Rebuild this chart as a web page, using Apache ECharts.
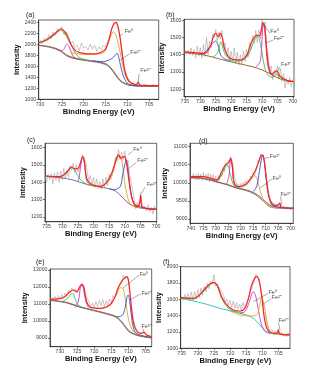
<!DOCTYPE html>
<html><head><meta charset="utf-8">
<script src="https://cdn.jsdelivr.net/npm/echarts@6.0.0/dist/echarts.min.js"></script>
<style>html,body{margin:0;padding:0;background:#fff}#chart{width:328px;height:369px}</style>
</head><body><div id="chart"></div><script>
// Fe 2p XPS spectra, six samples (a)-(f): raw counts, fitted components, Shirley background, envelope.

// ---------- (a) ----------
const aRawStart = 703, aRawStep = 0.5;
const aRaw = [1262,1238,1270,1245,1258,1232,1275,1250,1240,1330,1268,1295,1288,1345,1402,1530,1700,2080,2270,2420,2360,2330,2120,2060,1950,1990,1905,1960,1880,1990,1920,2010,1900,1970,1935,2030,1890,1990,1950,2060,2010,2150,2240,2180,2330,2250,2290,2170,2230,2110,2180,2060,2120,2010,2090];
const aBg = [[730.3,1990],[727.7,1960],[725.4,1900],[723.9,1810],[721.8,1750],[719.3,1718],[717,1690],[715.1,1657],[714,1600],[712.8,1475],[711.7,1355],[710.5,1292],[709,1256],[707.1,1245],[702.8,1243]];
const aBg2 = [[730.3,1985],[727.7,1950],[725.4,1885],[723.9,1795],[721.8,1738],[719.3,1705],[717,1678],[715.1,1640],[714,1580],[712.8,1455],[711.7,1340],[710.5,1280],[709,1250],[707.1,1240],[702.8,1240]];
const aGreen = [[730.3,2030],[729,2060],[728,2100],[727,2160],[726,2225],[725.3,2262],[724.5,2215],[723.5,2090],[722.5,1930],[721.5,1800],[720.5,1745],[719.3,1720]];
const aMagenta = [[726,1905],[725,1885],[724.4,1930],[723.9,2010],[723.4,1975],[722.8,1850],[722.2,1770],[721.5,1748]];
const aOrange = [[723,1850],[721,1830],[719,1820],[717,1825],[716,1840],[715.1,1875],[714.4,2020],[713.7,2170],[713.2,2236],[712.6,2175],[712.1,2020],[711.5,1810],[710.9,1570],[710.2,1385],[709.2,1292],[707.9,1256],[702.8,1244]];
const aBlue = [[718,1705],[715.5,1690],[714,1725],[713.1,1775],[712.6,1825],[712.3,1840],[711.9,1750],[711.3,1535],[710.5,1355],[709.4,1265],[707.5,1250],[702.8,1245]];
const aEnvelope = [[730.3,2035],[729,2070],[728,2115],[727,2175],[726,2245],[725.2,2290],[724.4,2240],[723.8,2170],[723,2020],[722,1900],[721,1855],[720,1840],[719,1830],[718,1830],[717,1835],[716,1860],[715,1920],[714.3,2060],[713.7,2250],[713.1,2380],[712.7,2405],[712.2,2350],[711.7,2150],[711.2,1850],[710.7,1580],[710.2,1420],[709.5,1320],[708.5,1280],[707.9,1268],[707.5,1305],[707.1,1262],[706,1255],[702.8,1250]];
const aNotes = [
  {text:'Fe\u2070', at:[710.6,2236], from:[711.0,2200], to:[711.9,2150]},
  {text:'Fe\u00b2\u207a', at:[709.3,1852], from:[709.5,1830], to:[711.6,1720]},
  {text:'Fe\u00b3\u207a', at:[707.0,1523], from:[707.3,1470], to:[707.5,1300]}
];

// ---------- (b) ----------
const bRawStart = 700, bRawStep = 0.5;
const bRaw = [1258,1215,1270,1228,1262,1205,1290,1245,1320,1260,1335,1280,1310,1255,1335,1290,1400,1440,1590,1560,1600,1490,1545,1470,1540,1465,1510,1430,1470,1385,1430,1360,1420,1345,1400,1340,1415,1350,1440,1360,1420,1370,1440,1395,1470,1440,1540,1490,1530,1480,1545,1500,1520,1440,1480,1400,1500,1390,1460,1380,1440,1390,1450,1380,1430,1395,1440,1400,1425,1405,1420];
const bBg = [[735.3,1412],[728.7,1398],[723.3,1373],[717.9,1350],[713.2,1331],[709.9,1311],[706.6,1283],[704.5,1263],[701.2,1248],[699.6,1244]];
const bBlue = [[729.5,1400],[727.9,1425],[726.3,1460],[725,1479],[724.1,1446],[723.4,1398],[722,1375],[720,1365]];
const bGreen = [[726,1388],[724.8,1400],[724.1,1427],[723.3,1475],[722.5,1427],[721.4,1388],[718.2,1362],[714.9,1388],[713.3,1446],[712.2,1494],[711.4,1504],[710.5,1465],[709.5,1360],[708.4,1292],[706.7,1269],[705.3,1288],[704.2,1263],[701.8,1248],[699.6,1244]];
const bMagenta = [[712,1330],[711.6,1335],[710.5,1365],[710,1485],[709.5,1585],[708.9,1504],[708.2,1350],[707.3,1290],[706,1275]];
const bEnvelope = [[735.3,1418],[728.7,1408],[726.8,1446],[725.8,1504],[725,1523],[724.1,1504],[723.6,1523],[722.9,1500],[722,1427],[720.3,1379],[717,1369],[714.9,1398],[713.6,1465],[712.5,1500],[711.6,1513],[710.8,1508],[710.2,1542],[709.7,1585],[709.1,1562],[708.6,1456],[707.8,1331],[706.7,1288],[705.3,1307],[704.2,1277],[701.8,1250],[699.6,1245]];
const bNotes = [
  {text:'Fe\u2070', at:[707.3,1537], from:[707.5,1525], to:[709.1,1571]},
  {text:'Fe\u00b2\u207a', at:[706.2,1496], from:[706.4,1485], to:[708.6,1469]},
  {text:'Fe\u00b3\u207a', at:[703.8,1346], from:[704.2,1330], to:[704.9,1302]}
];

// ---------- (c) ----------
const cRawStart = 700, cRawStep = 0.5;
const cRaw = [1240,1262,1218,1255,1230,1270,1235,1262,1245,1275,1340,1255,1285,1248,1300,1290,1410,1440,1530,1510,1580,1525,1575,1530,1590,1520,1545,1470,1480,1415,1445,1380,1430,1370,1420,1360,1405,1365,1420,1370,1430,1380,1440,1410,1460,1520,1530,1560,1500,1510,1460,1500,1455,1510,1470,1495,1430,1470,1420,1480,1415,1465,1400,1460,1410,1455,1390,1450,1415,1445,1400,1440];
const cBg = [[735.5,1433],[730.7,1427],[726.5,1413],[722.2,1388],[717.9,1373],[713.7,1356],[711.5,1327],[709.4,1288],[707.3,1263],[704,1250],[699.8,1244]];
const cGreen = [[730.7,1427],[728.6,1452],[727.3,1481],[726.7,1485],[725.6,1458],[724.3,1419],[722.2,1390],[720,1380]];
const cMagenta = [[725,1405],[724.6,1425],[724,1510],[723.5,1542],[722.9,1510],[722.2,1410],[721.1,1385]];
const cOrange = [[720,1378],[717.9,1375],[715.8,1394],[714.2,1442],[712.8,1519],[711.7,1554],[711,1530],[710.2,1423],[709.4,1336],[708.3,1279],[706.7,1258],[703,1248],[699.8,1244]];
const cBlue = [[715,1365],[713.7,1357],[711.5,1375],[710.7,1442],[709.9,1510],[709.6,1529],[708.9,1465],[708.1,1346],[707,1279],[705.1,1260],[703,1248],[699.8,1244]];
const cEnvelope = [[735.5,1438],[730.7,1433],[728.6,1458],[727.1,1488],[725.9,1477],[724.9,1481],[724,1523],[723.5,1548],[722.9,1519],[722.2,1423],[720.6,1388],[717.9,1377],[715.8,1400],[714.2,1452],[712.8,1529],[712,1558],[711.3,1539],[710.4,1548],[709.8,1542],[709.2,1481],[708.3,1365],[707.3,1284],[706,1260],[705.3,1275],[704.9,1327],[704.6,1262],[703,1250],[699.8,1245]];
const cNotes = [
  {text:'Fe\u2070', at:[707.3,1588], from:[707.6,1578], to:[708.9,1560]},
  {text:'Fe\u00b2\u207a', at:[706.0,1527], from:[706.3,1515], to:[709.5,1470]},
  {text:'Fe\u00b3\u207a', at:[703.0,1386], from:[703.5,1372], to:[704.7,1335]}
];

// ---------- (d) ----------
const dRawStart = 699, dRawStep = 0.5;
const dRaw = [9270,9330,9250,9320,9265,9340,9280,9350,9300,9360,9420,9330,9390,9340,9400,9350,9430,9440,9520,9600,9850,9980,10400,10550,10760,10700,10800,10560,10620,10380,10400,10220,10280,10100,10180,9990,10080,9920,10040,9890,10010,9860,9980,9850,9960,9880,10080,10150,10480,10500,10720,10560,10620,10450,10520,10300,10400,10180,10260,10060,10200,10000,10180,10010,10220,10050,10240,10030,10260,10060,10230,10080,10280,10060,10240,10090,10260,10070,10220,10100,10250,10110,10200];
const dBg = [[740.3,10143],[734.9,10124],[729.6,10032],[725.6,9958],[721.6,9866],[717.6,9802],[714.3,9710],[712.3,9617],[710.3,9498],[708.3,9387],[706.3,9332],[698.9,9295]];
const dBg2 = [[740.3,10138],[734.9,10115],[729.6,10020],[725.6,9945],[721.6,9850],[717.6,9780],[714.3,9680],[712.3,9575],[710.3,9450],[708.3,9345],[706.3,9305],[698.9,9285]];
const dGreen = [[729.6,10032],[727.6,10217],[726,10475],[725.6,10511],[724.7,10400],[723.6,10078],[722.3,9900],[720,9860]];
const dMagenta = [[725.6,9960],[724.7,10189],[724,10631],[723.3,10400],[722.7,9985],[721.5,9870]];
const dOrange = [[720.3,9894],[717.6,9986],[715.6,10124],[714.3,10198],[713.3,10078],[712.3,9802],[711,9525],[709.6,9387],[707.6,9323],[698.9,9295]];
const dBlue = [[714.9,9760],[713.6,9894],[712.5,10309],[711.6,10677],[711.2,10751],[710.5,10585],[709.6,10032],[708.5,9571],[706.9,9359],[698.9,9295]];
const dEnvelope = [[740.3,10170],[734.9,10170],[729.6,10078],[727.6,10309],[726,10511],[725.2,10539],[724.7,10560],[724,10677],[723.3,10447],[722.7,10032],[721,9894],[718.3,9940],[716.3,10078],[714.3,10309],[713,10539],[712,10723],[711.2,10769],[710.5,10585],[709.6,10032],[708.5,9571],[706.9,9387],[705.5,9370],[704.3,9440],[703.8,9330],[698.9,9295]];
const dNotes = [
  {text:'Fe\u00b2\u207a', at:[708.3,10714], from:[708.5,10700], to:[710.5,10677]},
  {text:'Fe\u2070', at:[707.2,10124], from:[707.4,10110], to:[712.3,9848]},
  {text:'Fe\u00b3\u207a', at:[704.0,9664], from:[704.0,9620], to:[703.6,9400]}
];

// ---------- (e) ----------
const eRawStart = 703.5, eRawStep = 0.5;
const eRaw = [9050,9160,9120,9230,9420,9250,9330,9290,9480,9650,10050,10700,11450,12350,12650,12450,12700,12250,12350,11900,11800,11350,11500,11050,11300,10900,11200,10850,11250,10900,11200,10850,11150,10800,11050,10850,11100,11150,11550,12000,12200,12000,11950,11650,11900,11750,11950,11650,11800,11450,11650,11350,11550,11300,11500,11250,11450,11280,11400,11250];
const eBg = [[732.9,11236],[728.1,11099],[724.2,10844],[720.3,10648],[716.4,10452],[713.5,10256],[711.5,9864],[710.1,9472],[708.6,9276],[706.7,9139],[703.2,9021]];
const eBg2 = [[732.9,11215],[728.1,11070],[724.2,10815],[720.3,10615],[716.4,10410],[713.5,10200],[711.5,9800],[710.1,9420],[708.6,9240],[706.7,9110],[703.2,9000]];
const eGreen = [[729,11177],[727.6,11373],[726.8,11589],[726.3,11628],[725.6,11334],[724.9,10981],[723.7,10824]];
const eMagenta = [[725.6,10785],[724.6,11177],[724,12020],[723.7,12118],[723.2,11922],[722.4,11138],[721.7,10785]];
const eOrange = [[718.3,10707],[715.4,10962],[713.5,11530],[712.3,11961],[711.5,11883],[710.7,11000],[709.8,9962],[708.6,9413],[706.7,9178],[703.2,9030]];
const eBlue = [[713.5,10256],[712,10295],[711,10746],[710.5,11334],[710.1,11530],[709.6,11138],[708.9,9962],[708.1,9374],[706.7,9178],[703.2,9030]];
const eEnvelope = [[732.9,11275],[729,11373],[727.1,11726],[726.1,11824],[725.1,11726],[724.2,12020],[723.6,12157],[723,11961],[722.2,11138],[720.8,10785],[718.3,10746],[715.4,10942],[713.9,11432],[713,11961],[712,12314],[711,12549],[710.5,12608],[710,12412],[709.4,11334],[708.6,9962],[707.6,9413],[706.2,9276],[705.5,9335],[704.7,9178],[703.2,9080]];
const eNotes = [
  {text:'Fe\u2070', at:[706.7,12745], from:[706.9,12700], to:[711.7,11922]},
  {text:'Fe\u00b2\u207a', at:[706.2,11628], from:[706.4,11600], to:[709.6,11236]},
  {text:'Fe\u00b3\u207a', at:[706.2,9650], from:[705.8,9550], to:[705.5,9380]}
];

// ---------- (f) ----------
const fRawStart = 701.5, fRawStep = 0.5;
const fRaw = [1150,1190,1140,1185,1155,1195,1160,1240,1170,1215,1175,1230,1200,1250,1290,1380,1440,1640,1700,1850,1840,1910,1820,1800,1710,1690,1580,1590,1500,1560,1470,1540,1480,1560,1490,1580,1500,1590,1530,1600,1570,1660,1640,1720,1700,1790,1760,1900,1780,1820,1730,1800,1690,1760,1650,1740,1620,1720,1600,1700,1590,1690,1580,1670,1600,1660,1590,1640];
const fBg = [[735.3,1612],[731.4,1580],[727.2,1539],[723.1,1490],[719,1449],[714.8,1408],[712.8,1367],[710.7,1286],[709.1,1204],[707.6,1184],[705.4,1173],[705,1200],[704.6,1172],[701.4,1163]];
const fGreen = [[735.3,1612],[731.4,1604],[729.3,1653],[727.2,1743],[725.7,1796],[725,1804],[723.9,1755],[722.6,1612],[721,1510],[719,1457],[716,1440]];
const fOrange = [[720,1455],[716.9,1408],[713.8,1396],[711.7,1408],[710.9,1510],[710.2,1612],[709.7,1580],[708.8,1388],[708.1,1245],[707.1,1184],[701.4,1163]];
const fMagenta = [[717,1430],[715.4,1449],[714,1571],[713.3,1661],[712.8,1694],[712,1633],[711.2,1469],[710.2,1286],[709.1,1212],[707.6,1185]];
const fEnvelope = [[735.3,1620],[731.4,1612],[729.3,1661],[727.2,1755],[725.2,1808],[723.9,1767],[722.6,1633],[721,1531],[719,1469],[716.9,1457],[715.4,1490],[714.3,1612],[713.3,1776],[712.2,1869],[711.7,1878],[710.9,1816],[710.2,1653],[709.5,1408],[708.6,1245],[707.6,1196],[706,1184],[705.3,1190],[705,1224],[704.7,1180],[701.4,1165]];
const fNotes = [
  {text:'Fe\u2070', at:[708.1,1686], from:[708.3,1670], to:[712.8,1571]},
  {text:'Fe\u00b2\u207a', at:[707.1,1624], from:[707.3,1605], to:[710.2,1530]},
  {text:'Fe\u00b3\u207a', at:[705.0,1343], from:[705.0,1320], to:[704.5,1224]}
];

// ---------- styling ----------
const FONT = '"Liberation Sans", Arial, sans-serif';
const C = {
  raw:'#a3a3a3', red:'#ff2020', green:'#3cc43c', magenta:'#c640c6', blue:'#2f4fd8',
  orange:'#e0a428', brown:'#8b5a2b', purple:'#6f5a8c', teal:'#20c2b2'
};

const panels = [
  {tag:'(a)', tagPos:[21,7], grid:{left:38.7, top:20, width:120, height:79.3},
   x:[702.8,730.3], xt:[705,710,715,720,725,730], y:[1000,2450], yt:[1000,1200,1400,1600,1800,2000,2200,2400],
   yGap:15, xGap:6, rawStart:aRawStart, rawStep:aRawStep, raw:aRaw, notes:aNotes,
   curves:[[aBg2,C.purple],[aBg,C.brown],[aGreen,C.green],[aMagenta,C.magenta],[aOrange,C.orange],[aBlue,C.blue],[aEnvelope,C.red]]},
  {tag:'(b)', tagPos:[161,7], grid:{left:184, top:19.3, width:110, height:77.4},
   x:[699.6,735.3], xt:[700,705,710,715,720,725,730,735], y:[1157,1605], yt:[1200,1300,1400,1500,1600],
   yGap:14, xGap:8, rawStart:bRawStart, rawStep:bRawStep, raw:bRaw, notes:bNotes,
   curves:[[bBg,C.brown],[bBlue,C.blue],[bGreen,C.green],[bMagenta,C.magenta],[bEnvelope,C.red]]},
  {tag:'(c)', tagPos:[22,132], grid:{left:45, top:143.3, width:111.7, height:78.4},
   x:[699.8,735.5], xt:[700,705,710,715,720,725,730,735], y:[1173,1625], yt:[1200,1300,1400,1500,1600],
   yGap:16, xGap:7, rawStart:cRawStart, rawStep:cRawStep, raw:cRaw, notes:cNotes,
   curves:[[cBg,C.purple],[cGreen,C.green],[cMagenta,C.magenta],[cOrange,C.orange],[cBlue,C.blue],[cEnvelope,C.red]]},
  {tag:'(d)', tagPos:[194,133], grid:{left:190, top:143.3, width:103.3, height:80},
   x:[698.9,740.3], xt:[700,705,710,715,720,725,730,735,740], y:[8880,11090], yt:[9000,9500,10000,10500,11000],
   yGap:16.5, xGap:7, rawStart:dRawStart, rawStep:dRawStep, raw:dRaw, notes:dNotes,
   curves:[[dBg2,C.purple],[dBg,C.brown],[dGreen,C.green],[dMagenta,C.magenta],[dOrange,C.orange],[dBlue,C.blue],[dEnvelope,C.red]]},
  {tag:'(e)', tagPos:[31,254], grid:{left:50, top:269, width:101.7, height:77.7},
   x:[703.2,732.9], xt:[705,710,715,720,725,730], y:[8490,13060], yt:[9000,10000,11000,12000,13000],
   yGap:15, xGap:7, rawStart:eRawStart, rawStep:eRawStep, raw:eRaw, notes:eNotes,
   curves:[[eBg2,C.purple],[eBg,C.brown],[eGreen,C.green],[eMagenta,C.magenta],[eOrange,C.orange],[eBlue,C.blue],[eEnvelope,C.red]]},
  {tag:'(f)', tagPos:[158,254], grid:{left:180.7, top:266.7, width:109.3, height:81.6},
   x:[701.4,735.3], xt:[705,710,715,720,725,730,735], y:[1000,2000], yt:[1000,1200,1400,1600,1800,2000],
   yGap:15, xGap:6, rawStart:fRawStart, rawStep:fRawStep, raw:fRaw, notes:fNotes,
   curves:[[fBg,C.teal],[fGreen,C.green],[fMagenta,C.magenta],[fOrange,C.orange],[fEnvelope,C.red]]}
];

const byEnergy = arr => arr.slice().sort((p, q) => p[0] - q[0]);
const plain = v => String(v);
const grids = [], xAxes = [], yAxes = [], series = [], titles = [];

panels.forEach((p, i) => {
  grids.push(Object.assign({show:true, borderColor:'#222', borderWidth:0.7, containLabel:false}, p.grid));
  xAxes.push({
    type:'value', gridIndex:i, inverse:true, min:p.x[0], max:p.x[1],
    name:'Binding Energy (eV)', nameLocation:'middle', nameGap:p.xGap,
    nameTextStyle:{fontFamily:FONT, fontSize:7.5, fontWeight:'bold', color:'#111'},
    axisLine:{lineStyle:{color:'#222', width:0.7}},
    axisTick:{customValues:p.xt, length:2, lineStyle:{color:'#222', width:0.6}},
    axisLabel:{customValues:p.xt, formatter:plain, fontFamily:FONT, fontSize:5.2, color:'#444', margin:2.5},
    splitLine:{show:false}
  });
  yAxes.push({
    type:'value', gridIndex:i, min:p.y[0], max:p.y[1],
    name:'Intensity', nameLocation:'middle', nameGap:p.yGap, nameRotate:90,
    nameTextStyle:{fontFamily:FONT, fontSize:7.5, fontWeight:'bold', color:'#111'},
    axisLine:{lineStyle:{color:'#222', width:0.7}},
    axisTick:{customValues:p.yt, length:2, lineStyle:{color:'#222', width:0.6}},
    axisLabel:{customValues:p.yt, formatter:plain, fontFamily:FONT, fontSize:5.2, color:'#444', margin:2.5},
    splitLine:{show:false}
  });
  titles.push({text:p.tag, left:p.tagPos[0], top:p.tagPos[1],
    textStyle:{fontFamily:FONT, fontSize:7, fontWeight:'normal', color:'#222'}});

  // measured counts
  series.push({
    type:'line', xAxisIndex:i, yAxisIndex:i, symbol:'none', silent:true, z:1,
    data:p.raw.map((v, k) => [p.rawStart + k * p.rawStep, v]),
    lineStyle:{color:C.raw, width:0.6}
  });
  // background, fitted components and envelope
  p.curves.forEach(([data, color], j) => {
    const isEnv = j === p.curves.length - 1;
    series.push({
      type:'line', xAxisIndex:i, yAxisIndex:i, symbol:'none', silent:true, z:2 + j,
      smooth:0.35, data:byEnergy(data),
      lineStyle:{color, width:isEnv ? 1.2 : 0.9}
    });
  });
  // peak assignments with leader lines
  p.notes.forEach(n => {
    series.push({
      type:'line', xAxisIndex:i, yAxisIndex:i, symbol:'none', silent:true, z:20,
      data:[n.from, n.to], lineStyle:{color:'#555', width:0.5}
    });
  });
  series.push({
    type:'scatter', xAxisIndex:i, yAxisIndex:i, symbolSize:0, silent:true, z:21,
    data:p.notes.map(n => ({value:n.at, name:n.text})),
    label:{show:true, position:'right', distance:0, formatter:d => d.name,
      fontFamily:FONT, fontSize:5.5, color:'#222'}
  });
});

const chart = echarts.init(document.getElementById('chart'), null, {renderer:'canvas'});
chart.setOption({
  animation:false, backgroundColor:'#fff',
  title:titles, grid:grids, xAxis:xAxes, yAxis:yAxes, series
});
</script></body></html>
